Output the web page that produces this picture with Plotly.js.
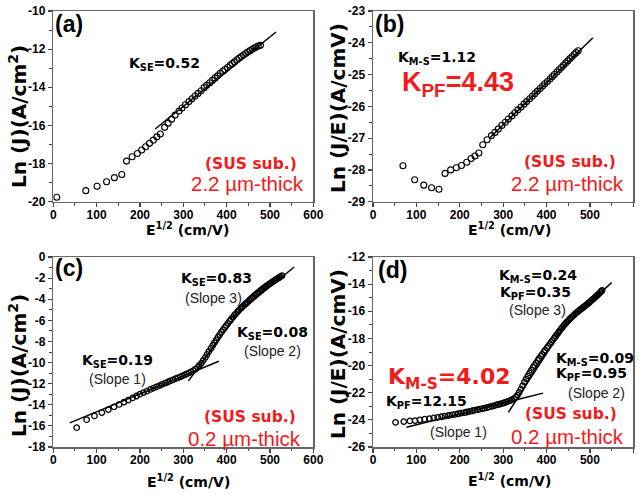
<!DOCTYPE html>
<html><head><meta charset="utf-8">
<script src="https://cdn.plot.ly/plotly-3.0.1.min.js"></script>
<style>html,body{margin:0;padding:0;background:#fff;}#chart{width:642px;height:494px;}</style>
</head><body><div id="chart"></div>
<script>
// ---------- data ----------
const xTickVals = [0, 100, 200, 300, 400, 500, 600];
const xTickText = ['0', '100', '200', '300', '400', '500', '600'];

// (a) Ln(J) vs E^1/2, 2.2 um
const aX = [8, 75, 101, 123, 141, 158, 169, 182, 194, 204, 213, 222, 231, 239, 247,
  257, 265, 273, 281, 290, 297, 305, 313, 320, 327, 334, 341, 348, 354, 361, 367, 373, 379, 385,
  391, 396, 402, 408, 413, 418, 424, 429, 434, 439, 444, 449, 454, 459, 464, 468, 473, 478];
const aY = [-19.77, -19.42, -19.19, -18.95, -18.74, -18.57, -17.87, -17.64, -17.47, -17.29, -17.12, -16.94, -16.77, -16.6, -16.45,
  -16.1, -15.88, -15.67, -15.46, -15.25, -15.09, -14.92, -14.75, -14.6, -14.46, -14.32, -14.18, -14.02, -13.9, -13.76, -13.64, -13.52, -13.4, -13.27,
  -13.16, -13.07, -12.96, -12.85, -12.76, -12.67, -12.56, -12.47, -12.39, -12.31, -12.23, -12.15, -12.08, -12.01, -11.94, -11.89, -11.84, -11.8];
const aFitX = [235, 514];
const aFitY = [-16.19, -11.1];

// (b) Ln(J/E) vs E^1/2, 2.2 um
const bX = [69, 96, 117, 135, 152, 166, 179, 192, 204, 216, 226, 235, 244, 253, 263, 273,
  281, 289, 297, 305, 312, 320, 327, 334, 341, 348, 354, 361, 367, 373, 379, 385, 391, 396,
  402, 408, 413, 418, 424, 429, 434, 439, 444, 449, 454, 459, 464, 468, 473];
const bY = [-27.87, -28.31, -28.48, -28.56, -28.61, -28.11, -28.0, -27.93, -27.86, -27.76, -27.64, -27.56, -27.47, -27.21, -27.05, -26.92,
  -26.82, -26.71, -26.6, -26.5, -26.4, -26.3, -26.2, -26.11, -26.02, -25.93, -25.85, -25.76, -25.68, -25.6, -25.52, -25.44, -25.36, -25.29,
  -25.22, -25.14, -25.07, -25.0, -24.92, -24.85, -24.78, -24.71, -24.64, -24.57, -24.5, -24.43, -24.36, -24.31, -24.25];
const bFitX = [270, 507];
const bFitY = [-26.98, -23.84];

// (c) Ln(J) vs E^1/2, 0.2 um
const cX = [54, 77, 95, 112, 127, 140, 152, 163, 173, 183, 192, 200, 208, 216, 224, 231, 238, 245, 251, 258,
  264, 270, 276, 282, 287, 293, 298, 303, 308, 313, 318, 323, 328, 333, 337, 342, 346, 351, 355, 359,
  364, 368, 372, 376, 380, 384, 388, 392, 396, 399, 403, 407, 410, 414, 418, 421, 425, 428, 432, 435,
  438, 442, 445, 448, 452, 455, 458, 461, 464, 467, 470, 473, 477, 480, 483, 486, 489, 491, 494, 497,
  500, 503, 506, 509, 511, 514, 517, 520, 522, 525, 528];
const cY = [-16.17, -15.41, -15.06, -14.74, -14.46, -14.2, -13.97, -13.75, -13.55, -13.35, -13.17, -13.0, -12.85, -12.7, -12.55, -12.42, -12.3, -12.18, -12.06, -11.95,
  -11.84, -11.74, -11.64, -11.53, -11.45, -11.35, -11.26, -11.17, -11.08, -10.98, -10.88, -10.76, -10.62, -10.45, -10.28, -10.05, -9.8, -9.5, -9.22, -8.95,
  -8.65, -8.38, -8.12, -7.86, -7.6, -7.35, -7.1, -6.88, -6.66, -6.5, -6.28, -6.08, -5.92, -5.72, -5.52, -5.38, -5.2, -5.06, -4.9, -4.78,
  -4.66, -4.5, -4.38, -4.27, -4.12, -4.0, -3.89, -3.78, -3.67, -3.56, -3.46, -3.36, -3.22, -3.12, -3.02, -2.93, -2.84, -2.78, -2.69, -2.6,
  -2.52, -2.43, -2.35, -2.27, -2.21, -2.13, -2.05, -1.97, -1.92, -1.84, -1.76];
const cFit1X = [38, 382];   const cFit1Y = [-15.72, -9.88];
const cFit2X = [312, 423];  const cFit2Y = [-11.74, -5.52];
const cFit3X = [410, 556];  const cFit3Y = [-5.84, -0.95];

// (d) Ln(J/E) vs E^1/2, 0.2 um
const dX = [52, 71, 85, 97, 108, 119, 130, 140, 149, 158, 166, 174, 182, 189, 196, 203, 210, 216, 223, 229,
  235, 241, 246, 252, 257, 263, 268, 273, 278, 283, 288, 293, 298, 302, 307, 311, 316, 320, 325, 329,
  333, 337, 341, 345, 349, 353, 357, 361, 365, 369, 372, 376, 380, 383, 387, 390, 394, 397, 401, 404,
  408, 411, 414, 418, 421, 424, 427, 430, 434, 437, 440, 443, 446, 449, 452, 455, 458, 461, 464, 467,
  470, 472, 475, 478, 481, 484, 486, 489, 492, 495, 497, 500, 503, 505, 508, 511, 513, 516, 518, 521,
  524, 526, 528];
const dY = [-24.18, -24.13, -24.08, -24.05, -24.0, -23.95, -23.91, -23.86, -23.82, -23.77, -23.73, -23.68, -23.63, -23.59, -23.55, -23.5, -23.46, -23.42, -23.37, -23.33,
  -23.29, -23.25, -23.21, -23.17, -23.13, -23.09, -23.05, -23.01, -22.97, -22.92, -22.87, -22.83, -22.78, -22.74, -22.69, -22.64, -22.58, -22.52, -22.43, -22.32,
  -22.18, -21.98, -21.74, -21.48, -21.22, -20.98, -20.76, -20.54, -20.34, -20.14, -19.98, -19.8, -19.62, -19.48, -19.3, -19.17, -19.0, -18.87, -18.7, -18.57,
  -18.4, -18.27, -18.14, -17.97, -17.84, -17.71, -17.58, -17.45, -17.28, -17.16, -17.04, -16.93, -16.82, -16.72, -16.62, -16.52, -16.43, -16.34, -16.25, -16.16,
  -16.08, -16.02, -15.95, -15.87, -15.8, -15.72, -15.67, -15.6, -15.52, -15.44, -15.39, -15.3, -15.22, -15.16, -15.08, -15.0, -14.94, -14.85, -14.79, -14.7,
  -14.61, -14.54, -14.46];
const dFit1X = [77, 392];   const dFit1Y = [-24.54, -22.03];
const dFit2X = [312, 446];  const dFit2Y = [-23.45, -16.85];
const dFit3X = [427, 550];  const dFit3Y = [-17.47, -13.89];

// y tick labels
const aYTicks = [-20, -18, -16, -14, -12, -10];
const bYTicks = [-29, -28, -27, -26, -25, -24, -23];
const cYTicks = [-18, -16, -14, -12, -10, -8, -6, -4, -2, 0];
const dYTicks = [-26, -24, -22, -20, -18, -16, -14, -12];

// ---------- drawing ----------
const W = 642, H = 494;
const RED = '#f21b1b';
const ARIAL = 'Liberation Sans, Arial, sans-serif';
const DEJA = 'DejaVu Sans, Verdana, sans-serif';

function pts(x, y, ax, size, lw) {
  return {x: x, y: y, xaxis: 'x' + ax, yaxis: 'y' + ax, type: 'scatter', mode: 'markers',
    marker: {symbol: 'circle-open', size: size, color: '#000', line: {width: lw, color: '#000'}},
    hoverinfo: 'skip', showlegend: false};
}
function fit(x, y, ax) {
  return {x: x, y: y, xaxis: 'x' + ax, yaxis: 'y' + ax, type: 'scatter', mode: 'lines',
    line: {color: '#000', width: 1.5}, hoverinfo: 'skip', showlegend: false};
}
const traces = [
  pts(aX, aY, '', 6, 1.1), fit(aFitX, aFitY, ''),
  pts(bX, bY, '2', 6, 1.1), fit(bFitX, bFitY, '2'),
  pts(cX, cY, '3', 5.5, 1.3), fit(cFit1X, cFit1Y, '3'), fit(cFit2X, cFit2Y, '3'), fit(cFit3X, cFit3Y, '3'),
  pts(dX, dY, '4', 5.5, 1.3), fit(dFit1X, dFit1Y, '4'), fit(dFit2X, dFit2Y, '4'), fit(dFit3X, dFit3Y, '4')
];

const colL = [53.3 / W, 313.3 / W];
const colR = [373 / W, 633.3 / W];
const rowT = [1 - 201.7 / H, 1 - 11 / H];
const rowB = [1 - 447 / H, 1 - 257 / H];

const tickFont = {family: ARIAL, size: 12, color: '#000', weight: 'bold'};
function xa(dom, anchor) {
  return {domain: dom, anchor: anchor, range: [0, 600], tickmode: 'array', tickvals: xTickVals, ticktext: xTickText,
    showline: true, mirror: true, linecolor: '#666', linewidth: 1.5, ticks: 'outside', ticklen: 4, tickwidth: 1.2,
    tickcolor: '#444', minor: {ticks: 'outside', dtick: 50, tick0: 0, ticklen: 2.5, tickcolor: '#444', tickwidth: 1},
    ticklabelstandoff: -3,
    showgrid: false, zeroline: false, tickfont: tickFont, fixedrange: true};
}
function ya(dom, anchor, vals, minorStep) {
  return {domain: dom, anchor: anchor, range: [vals[0], vals[vals.length - 1]], tickmode: 'array', tickvals: vals,
    ticktext: vals.map(v => String(v)), showline: true, mirror: true, linecolor: '#666', linewidth: 1.5,
    ticks: 'outside', ticklen: 4, tickwidth: 1.2, tickcolor: '#444',
    minor: {ticks: 'outside', dtick: minorStep, tick0: 0, ticklen: 2.5, tickcolor: '#444', tickwidth: 1},
    showgrid: false, zeroline: false, tickfont: tickFont, fixedrange: true};
}

function A(px, py, text, size, family, color, bold, extra) {
  return Object.assign({xref: 'paper', yref: 'paper', x: px / W, y: 1 - py / H, text: text, showarrow: false,
    xanchor: 'center', yanchor: 'middle',
    font: {family: family, size: size, color: color, weight: bold ? 'bold' : 'normal'}}, extra || {});
}

const ann = [
  // axis titles
  A(18, 117, 'Ln (J)(A/cm<sup>2</sup>)', 20, DEJA, '#000', true, {textangle: -90}),
  A(338, 108, 'Ln (J/E)(A/cmV)', 20, DEJA, '#000', true, {textangle: -90}),
  A(18, 366, 'Ln (J)(A/cm<sup>2</sup>)', 20, DEJA, '#000', true, {textangle: -90}),
  A(338, 354, 'Ln (J/E)(A/cmV)', 20, DEJA, '#000', true, {textangle: -90}),
  A(188, 229, 'E<sup>1/2</sup> (cm/V)', 14, DEJA, '#000', true),
  A(509, 229, 'E<sup>1/2</sup> (cm/V)', 14, DEJA, '#000', true),
  A(189, 481, 'E<sup>1/2</sup> (cm/V)', 14, DEJA, '#000', true),
  A(509, 480, 'E<sup>1/2</sup> (cm/V)', 14, DEJA, '#000', true),
  // (a)
  A(69, 24, '(a)', 23, ARIAL, '#000', true),
  A(165, 64, 'K<sub>SE</sub>=0.52', 14, DEJA, '#000', true),
  A(251, 164, '(SUS sub.)', 15.5, DEJA, RED, true),
  A(247, 184, '2.2 µm-thick', 20.5, ARIAL, RED, false),
  // (b)
  A(389, 24, '(b)', 23, ARIAL, '#000', true),
  A(437, 58, 'K<sub>M-S</sub>=1.12', 14, DEJA, '#000', true),
  A(458, 84, 'K<sub>PF</sub>=4.43', 27, ARIAL, RED, true),
  A(570, 162, '(SUS sub.)', 15.5, DEJA, RED, true),
  A(567, 183, '2.2 µm-thick', 20.5, ARIAL, RED, false),
  // (c)
  A(69, 268, '(c)', 23, ARIAL, '#000', true),
  A(216, 279, 'K<sub>SE</sub>=0.83', 14, DEJA, '#000', true),
  A(213, 298, '(Slope 3)', 14, ARIAL, '#222', false),
  A(272, 333, 'K<sub>SE</sub>=0.08', 14, DEJA, '#000', true),
  A(272, 351, '(Slope 2)', 14, ARIAL, '#222', false),
  A(117, 361, 'K<sub>SE</sub>=0.19', 14, DEJA, '#000', true),
  A(117, 379, '(Slope 1)', 14, ARIAL, '#222', false),
  A(250, 417, '(SUS sub.)', 15.5, DEJA, RED, true),
  A(244, 438, '0.2 µm-thick', 20.5, ARIAL, RED, false),
  // (d)
  A(392, 270, '(d)', 23, ARIAL, '#000', true),
  A(538, 276, 'K<sub>M-S</sub>=0.24', 14, DEJA, '#000', true),
  A(535, 293, 'K<sub>PF</sub>=0.35', 14, DEJA, '#000', true),
  A(537, 310, '(Slope 3)', 14, ARIAL, '#222', false),
  A(595, 359, 'K<sub>M-S</sub>=0.09', 14, DEJA, '#000', true),
  A(591, 374, 'K<sub>PF</sub>=0.95', 14, DEJA, '#000', true),
  A(596, 393, '(Slope 2)', 14, ARIAL, '#222', false),
  A(449, 378, 'K<sub>M-S</sub>=4.02', 22, DEJA, RED, true),
  A(426, 402, 'K<sub>PF</sub>=12.15', 14, DEJA, '#000', true),
  A(458, 432, '(Slope 1)', 14, ARIAL, '#222', false),
  A(571, 414, '(SUS sub.)', 15.5, DEJA, RED, true),
  A(567, 436, '0.2 µm-thick', 20.5, ARIAL, RED, false)
];

const layout = {
  width: W, height: H, margin: {l: 0, r: 0, t: 0, b: 0},
  paper_bgcolor: '#fff', plot_bgcolor: '#fff', showlegend: false,
  xaxis: xa(colL, 'y'), yaxis: ya(rowT, 'x', aYTicks, 1),
  xaxis2: xa(colR, 'y2'), yaxis2: ya(rowT, 'x2', bYTicks, 0.5),
  xaxis3: xa(colL, 'y3'), yaxis3: ya(rowB, 'x3', cYTicks, 1),
  xaxis4: xa(colR, 'y4'), yaxis4: ya(rowB, 'x4', dYTicks, 1),
  annotations: ann
};
Plotly.newPlot('chart', traces, layout, {displayModeBar: false, staticPlot: true});
</script></body></html>
